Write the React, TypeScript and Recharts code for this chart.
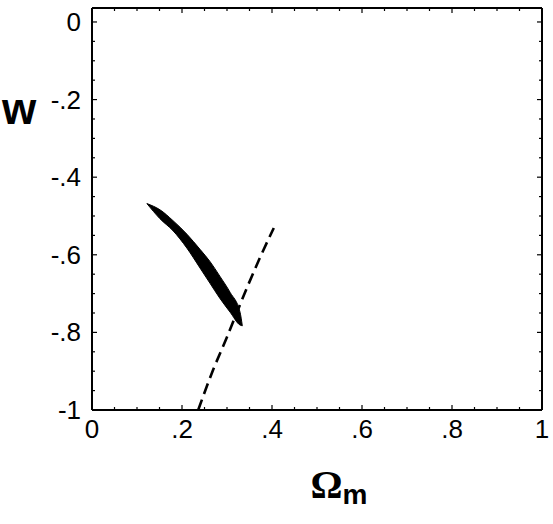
import React from "react";
import { ComposedChart, Area, Line, XAxis, YAxis, Label, ReferenceLine } from "recharts";

// contour band (filled): omega with upper / lower edge of w
const bandOmega = [0.122, 0.151, 0.18, 0.211, 0.24, 0.262, 0.284, 0.307, 0.329, 0.334];
const bandUpper = [-0.468, -0.484, -0.512, -0.547, -0.586, -0.617, -0.655, -0.697, -0.748, -0.783];
const bandLower = [-0.468, -0.507, -0.538, -0.583, -0.634, -0.673, -0.712, -0.748, -0.781, -0.783];

// dashed curve
const dashOmega = [0.236, 0.269, 0.3, 0.318, 0.344, 0.373, 0.404];
const dashW = [-1.0, -0.897, -0.812, -0.76, -0.686, -0.608, -0.531];

// ticks
const majorX = [0, 0.2, 0.4, 0.6, 0.8, 1];
const majorXLabels = ["0", ".2", ".4", ".6", ".8", "1"];
const minorX = [0.05, 0.1, 0.15, 0.25, 0.3, 0.35, 0.45, 0.5, 0.55, 0.65, 0.7, 0.75, 0.85, 0.9, 0.95];
const majorY = [0, -0.2, -0.4, -0.6, -0.8, -1];
const majorYLabels = ["0", "-.2", "-.4", "-.6", "-.8", "-1"];
const minorY = [-0.05, -0.1, -0.15, -0.25, -0.3, -0.35, -0.45, -0.5, -0.55, -0.65, -0.7, -0.75, -0.85, -0.9, -0.95];

const X_DOMAIN: [number, number] = [0, 1];
const Y_DOMAIN: [number, number] = [-1, 0.036];

const bandRows = bandOmega.map((om, i) => ({ om, w: [bandLower[i], bandUpper[i]] }));
const dashRows = dashOmega.map((om, i) => ({ om, w: dashW[i] }));

const allX = [...majorX, ...minorX];
const allY = [...majorY, ...minorY];

const FONT = "'Liberation Sans', Arial, Helvetica, sans-serif";
const MAJ = 5;
const MIN = 3;
// plot is 450 x 402 px, so a tick length in px -> axis units
const PX_X = (X_DOMAIN[1] - X_DOMAIN[0]) / 450;
const PX_Y = (Y_DOMAIN[1] - Y_DOMAIN[0]) / 402;

const BottomTick = ({ x, y, payload }: any) => {
  const i = majorX.indexOf(payload.value);
  return (
    <g>
      <line x1={x} x2={x} y1={y} y2={y - (i >= 0 ? MAJ : MIN)} stroke="#000" strokeWidth={1.2} />
      {i >= 0 && (
        <text x={x} y={y + 28} textAnchor="middle" fontSize={26} fontFamily={FONT} fill="#000">
          {majorXLabels[i]}
        </text>
      )}
    </g>
  );
};

const LeftTick = ({ x, y, payload }: any) => {
  const i = majorY.indexOf(payload.value);
  return (
    <g>
      <line x1={x} x2={x + (i >= 0 ? MAJ : MIN)} y1={y} y2={y} stroke="#000" strokeWidth={1.2} />
      {i >= 0 && (
        <text x={x - 11} y={y + 9} textAnchor="end" fontSize={26} fontFamily={FONT} fill="#000">
          {majorYLabels[i]}
        </text>
      )}
    </g>
  );
};

const axisLine = { stroke: "#000", strokeWidth: 2 };

export default function App() {
  return (
    <div style={{ position: "absolute", left: 0, top: 0, background: "#fff" }}>
      <ComposedChart width={553} height={524} data={bandRows}
        margin={{ top: 8, right: 11, bottom: 0, left: 0 }}>
        <XAxis dataKey="om" type="number" domain={X_DOMAIN} ticks={allX} interval={0}
          height={114} tickSize={0} tickMargin={0} tickLine={false} axisLine={axisLine}
          tick={<BottomTick />}>
          <Label content={({ viewBox }: any) => (
            <text x={viewBox.x + viewBox.width / 2 + 22} y={viewBox.y + 88} textAnchor="middle" fill="#000">
              <tspan fontFamily="'Liberation Serif', 'Times New Roman', serif" fontWeight="bold" fontSize={40}>Ω</tspan>
              <tspan fontFamily={FONT} fontWeight="bold" fontSize={28} dy={6}>m</tspan>
            </text>
          )} />
        </XAxis>
        <YAxis type="number" domain={Y_DOMAIN} ticks={allY} interval={0}
          width={92} tickSize={0} tickMargin={0} tickLine={false} axisLine={axisLine}
          tick={<LeftTick />}>
          <Label content={({ viewBox }: any) => (
            <text x={viewBox.x + 19} y={viewBox.y + 116} textAnchor="middle" fontSize={44}
              fontWeight="bold" fontFamily={FONT} fill="#000">w</text>
          )} />
        </YAxis>

        {/* frame: top and right edges with inward ticks */}
        <ReferenceLine y={Y_DOMAIN[1]} stroke="#000" strokeWidth={2} />
        <ReferenceLine x={X_DOMAIN[1]} stroke="#000" strokeWidth={2} />
        {allX.map((v) => (
          <ReferenceLine key={"t" + v} stroke="#000" strokeWidth={1.2}
            segment={[{ x: v, y: Y_DOMAIN[1] }, { x: v, y: Y_DOMAIN[1] - (majorX.includes(v) ? MAJ : MIN) * PX_Y }]} />
        ))}
        {allY.map((v) => (
          <ReferenceLine key={"r" + v} stroke="#000" strokeWidth={1.2}
            segment={[{ x: X_DOMAIN[1], y: v }, { x: X_DOMAIN[1] - (majorY.includes(v) ? MAJ : MIN) * PX_X, y: v }]} />
        ))}

        <Area dataKey="w" type="monotone" fill="#000" fillOpacity={1} stroke="#000" strokeWidth={1}
          isAnimationActive={false} />
        <Line data={dashRows} dataKey="w" type="monotone" stroke="#000" strokeWidth={2.6}
          strokeDasharray="11 6" dot={false} isAnimationActive={false} />
      </ComposedChart>
    </div>
  );
}
